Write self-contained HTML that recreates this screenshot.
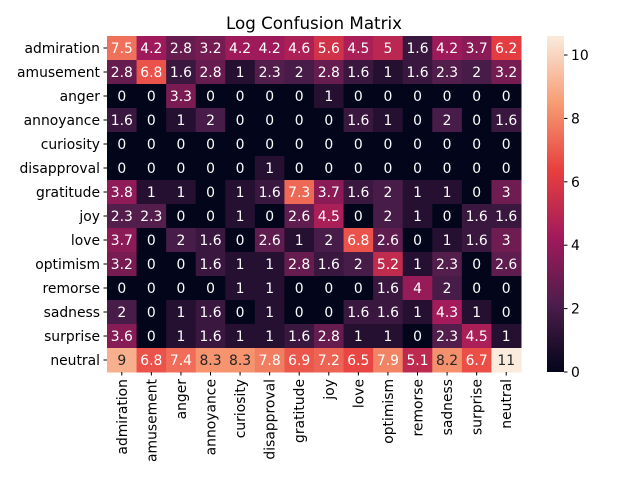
<!DOCTYPE html>
<html><head><meta charset="utf-8"><style>
body{margin:0;background:#fff}
svg text{font-family:"DejaVu Sans","Liberation Sans",sans-serif;font-size:13.9px}
</style></head><body>
<svg id="chart" width="640" height="480" xmlns="http://www.w3.org/2000/svg">
<defs><linearGradient id="cbg" x1="0" y1="1" x2="0" y2="0"></linearGradient></defs>
<text x="314" y="29" text-anchor="middle" style="font-size:16.7px">Log Confusion Matrix</text>
<g id="cells"></g><g id="ylab"></g><g id="xlab"></g><g id="cbar"></g>
</svg>
<script>
const labels=["admiration","amusement","anger","annoyance","curiosity","disapproval","gratitude","joy","love","optimism","remorse","sadness","surprise","neutral"];
const row0=[7.5,4.2,2.8,3.2,4.2,4.2,4.6,5.6,4.5,5,1.6,4.2,3.7,6.2];
const row1=[2.8,6.8,1.6,2.8,1,2.3,2,2.8,1.6,1,1.6,2.3,2,3.2];
const row2=[0,0,3.3,0,0,0,0,1,0,0,0,0,0,0];
const row3=[1.6,0,1,2,0,0,0,0,1.6,1,0,2,0,1.6];
const row4=[0,0,0,0,0,0,0,0,0,0,0,0,0,0];
const row5=[0,0,0,0,0,1,0,0,0,0,0,0,0,0];
const row6=[3.8,1,1,0,1,1.6,7.3,3.7,1.6,2,1,1,0,3];
const row7=[2.3,2.3,0,0,1,0,2.6,4.5,0,2,1,0,1.6,1.6];
const row8=[3.7,0,2,1.6,0,2.6,1,2,6.8,2.6,0,1,1.6,3];
const row9=[3.2,0,0,1.6,1,1,2.8,1.6,2,5.2,1,2.3,0,2.6];
const row10=[0,0,0,0,1,1,0,0,0,1.6,4,2,0,0];
const row11=[2,0,1,1.6,0,1,0,0,1.6,1.6,1,4.3,1,0];
const row12=[3.6,0,1,1.6,1,1,1.6,2.8,1,1,0,2.3,4.5,1];
const row13=[9,6.8,7.4,8.3,8.3,7.8,6.9,7.2,6.5,7.9,5.1,8.2,6.7,10.6];
const rows=[row0,row1,row2,row3,row4,row5,row6,row7,row8,row9,row10,row11,row12,row13];
const cbTicks=[0,2,4,6,8,10];
const vmax=10.6;
const NS="http://www.w3.org/2000/svg";
const L=107,R=521,T=36,B=372;
const cw=(R-L)/labels.length,ch=(B-T)/labels.length;
const xs=i=>L+i*cw, ys=i=>T+i*ch;
const stops=[[0,[3,5,26]],[0.2,[76,29,75]],[0.4,[161,26,91]],[0.6,[232,63,63]],[0.8,[246,156,115]],[1,[250,235,221]]];
function col(v){let t=Math.max(0,Math.min(1,v/vmax));for(let i=1;i<stops.length;i++){if(t<=stops[i][0]){const a=stops[i-1],b=stops[i];const f=(t-a[0])/(b[0]-a[0]);return "rgb("+a[1].map((c,k)=>Math.round(c+(b[1][k]-c)*f)).join(",")+")";}}return "rgb(250,235,221)";}
function mk(tag,at,parent,txt){const e=document.createElementNS(NS,tag);for(const k in at)e.setAttribute(k,at[k]);if(txt!==undefined)e.textContent=txt;parent.appendChild(e);return e;}
const cells=document.getElementById('cells');
rows.forEach((r,i)=>r.forEach((v,j)=>{
 const rc=mk('rect',{x:xs(j),y:ys(i),width:cw+0.5,height:ch+0.5,fill:col(v)},cells);
 
 
 const s=v>=10?Math.round(v).toString():String(v);
 const t=mk('text',{x:xs(j)+cw/2,y:ys(i)+ch/2+5,'text-anchor':'middle',fill:v>=8?'#262626':'#ffffff'},cells,s);
 
 
}));
const yl=document.getElementById('ylab'),xl=document.getElementById('xlab');
labels.forEach((l,i)=>{
 mk('line',{x1:L-3.5,x2:L,y1:ys(i)+ch/2,y2:ys(i)+ch/2,stroke:'#000'},yl);
 const t=mk('text',{x:L-7,y:ys(i)+ch/2+5,'text-anchor':'end'},yl,l);
 
 
 mk('line',{x1:xs(i)+cw/2,x2:xs(i)+cw/2,y1:B,y2:B+3.5,stroke:'#000'},xl);
 const u=mk('text',{x:0,y:0,'text-anchor':'end',transform:`translate(${xs(i)+cw/2+5},${B+7}) rotate(-90)`},xl,l);
 
 
});
const g=document.getElementById('cbg');
stops.forEach(s=>mk('stop',{offset:s[0],'stop-color':'rgb('+s[1].join(',')+')'},g));
const cb=document.getElementById('cbar');
const CX=547,CW=17,CT=36,CB=372;
const cy=v=>CB-(v/vmax)*(CB-CT);
const bar=mk('rect',{x:CX,y:CT,width:CW,height:CB-CT,fill:'url(#cbg)'},cb);


cbTicks.forEach(v=>{
 mk('line',{x1:CX+CW,x2:CX+CW+3.5,y1:cy(v),y2:cy(v),stroke:'#000'},cb);
 const t=mk('text',{x:CX+CW+7,y:cy(v)+5},cb,String(v));
 
 
});
</script>
</body></html>
